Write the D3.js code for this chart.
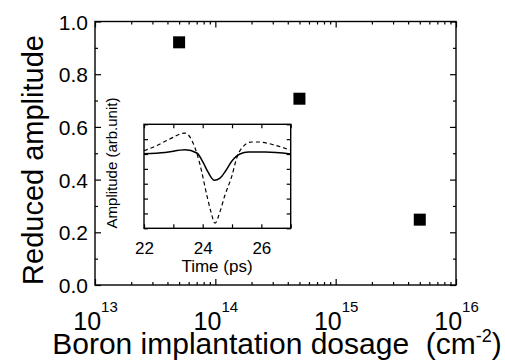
<!DOCTYPE html>
<html>
<head>
<meta charset="utf-8">
<script src="https://cdn.jsdelivr.net/npm/d3@7"></script>
<style>
  body { margin: 0; background: #fff; }
  text { font-family: Arial, "Liberation Sans", sans-serif; fill: #000; }
</style>
</head>
<body>
<svg id="chart" width="505" height="363"></svg>
<script>
// main plot data
const dosage = [5e13, 5e14, 5e15]
const reducedAmplitude = [0.921, 0.707, 0.248]
const xTickValues = [1e13, 1e14, 1e15, 1e16]
const xTickExponents = ["13", "14", "15", "16"]
const yTickValues = [0, 0.2, 0.4, 0.6, 0.8, 1.0]
const yMinorTicks = [0.1, 0.3, 0.5, 0.7, 0.9]

// inset data (time in ps, amplitude arb. units)
const timeSolid = [22.0, 22.72, 23.4, 23.8, 24.01, 24.18, 24.4, 24.59, 24.78, 24.99, 25.27, 25.56, 26.13, 27.0]
const ampSolid  = [5.02, 5.10, 5.29, 5.07, 4.46, 3.79, 3.23, 3.38, 3.86, 4.51, 5.00, 5.13, 5.13, 5.00]
const timeDashed = [22.0, 22.38, 22.83, 23.4, 23.74, 23.91, 24.14, 24.28, 24.42, 24.59, 24.76, 24.99, 25.16, 25.33, 25.67, 25.9, 26.47, 27.0]
const ampDashed  = [5.22, 5.52, 5.96, 6.41, 5.40, 4.28, 2.24, 1.12, 0.34, 1.12, 2.24, 3.49, 4.73, 5.40, 5.81, 5.81, 5.59, 5.25]
const insetTicks = [22, 23, 24, 25, 26, 27]
const insetTickLabels = [22, 24, 26]
const insetYTicks = [0, 1, 2, 3, 4, 5, 6, 7]

const Margin = { Top: 21.5, Bottom: 78, Left: 95, Right: 49 }
const width = 505, height = 363

const svg = d3.select("#chart")

const x = d3.scaleLog()
    .domain([1e13, 1e16])
    .range([Margin.Left, width - Margin.Right])
const y = d3.scaleLinear()
    .domain([0, 1])
    .range([height - Margin.Bottom, Margin.Top])

const xMinor = []
for (let e = 13; e < 16; e++) for (let k = 2; k <= 9; k++) xMinor.push(k * Math.pow(10, e))

const plotB = height - Margin.Bottom, plotR = width - Margin.Right

function tickGroup(axis, tx, ty) {
    const g = svg.append("g")
        .attr("transform", "translate(" + tx + "," + ty + ")")
        .call(axis)
    g.select(".domain").remove()
    g.selectAll(".tick line").attr("stroke", "#000").attr("stroke-width", 1.2)
    return g
}

// bottom axis with 10^n labels
const xb = tickGroup(d3.axisBottom(x).tickValues(xTickValues).tickSize(-6).tickFormat(""), 0, plotB)
xb.selectAll(".tick text")
    .attr("y", 45).attr("dy", null)
    .style("font-size", "25px")
    .each(function(d, i) {
        const t = d3.select(this)
        t.append("tspan").text("10")
        t.append("tspan").attr("dy", -18).style("font-size", "15px").text(xTickExponents[i])
    })
tickGroup(d3.axisBottom(x).tickValues(xMinor).tickSize(-3).tickFormat(""), 0, plotB)
tickGroup(d3.axisTop(x).tickValues(xTickValues).tickSize(-6).tickFormat(""), 0, Margin.Top)
tickGroup(d3.axisTop(x).tickValues(xMinor).tickSize(-3).tickFormat(""), 0, Margin.Top)

const yl = tickGroup(d3.axisLeft(y).tickValues(yTickValues).tickSize(-6).tickPadding(7).tickFormat(d3.format(".1f")), Margin.Left, 0)
yl.selectAll(".tick text").style("font-size", "21px").attr("dy", "0.36em")
tickGroup(d3.axisLeft(y).tickValues(yMinorTicks).tickSize(-3).tickFormat(""), Margin.Left, 0)
tickGroup(d3.axisRight(y).tickValues(yTickValues).tickSize(-6).tickFormat(""), plotR, 0)
tickGroup(d3.axisRight(y).tickValues(yMinorTicks).tickSize(-3).tickFormat(""), plotR, 0)

svg.append("rect")
    .attr("x", Margin.Left).attr("y", Margin.Top)
    .attr("width", plotR - Margin.Left).attr("height", plotB - Margin.Top)
    .attr("fill", "none").attr("stroke", "#000").attr("stroke-width", 1.4)

// points
svg.selectAll(".pt")
    .data(dosage.map((d, i) => [d, reducedAmplitude[i]]))
    .join("rect")
    .attr("class", "pt")
    .attr("x", d => x(d[0]) - 6).attr("y", d => y(d[1]) - 6)
    .attr("width", 12).attr("height", 12)
    .attr("fill", "#000")

// titles
svg.append("text")
    .attr("transform", "translate(43,160) rotate(-90)")
    .attr("text-anchor", "middle")
    .style("font-size", "29px")
    .text("Reduced amplitude")

const xt = svg.append("text")
    .attr("x", 277).attr("y", 354)
    .attr("text-anchor", "middle")
    .style("font-size", "30px")
    .style("white-space", "pre")
xt.append("tspan").text("Boron implantation dosage  (cm")
xt.append("tspan").attr("dy", -12).style("font-size", "18px").text("-2")
xt.append("tspan").attr("dy", 12).text(")")

// inset
const ix = d3.scaleLinear().domain([22, 27]).range([144, 290.7])
const iy = d3.scaleLinear().domain([0, 7]).range([228.3, 124.3])

svg.append("rect")
    .attr("x", ix(22)).attr("y", iy(7))
    .attr("width", ix(27) - ix(22)).attr("height", iy(0) - iy(7))
    .attr("fill", "#fff")

const line = d3.line()
    .x(d => ix(d[0]))
    .y(d => iy(d[1]))
    .curve(d3.curveMonotoneX)

svg.append("path")
    .datum(timeDashed.map((t, i) => [t, ampDashed[i]]))
    .attr("fill", "none").attr("stroke", "#000")
    .attr("stroke-width", 1.2).attr("stroke-dasharray", "4,3")
    .attr("d", line)
svg.append("path")
    .datum(timeSolid.map((t, i) => [t, ampSolid[i]]))
    .attr("fill", "none").attr("stroke", "#000")
    .attr("stroke-width", 1.5)
    .attr("d", line)

const ib = tickGroup(d3.axisBottom(ix).tickValues(insetTicks).tickSize(-4)
    .tickFormat(d => insetTickLabels.includes(d) ? d : ""), 0, iy(0))
ib.selectAll(".tick text").attr("y", 26).attr("dy", null).style("font-size", "17px")
tickGroup(d3.axisTop(ix).tickValues(insetTicks).tickSize(-4).tickFormat(""), 0, iy(7))
tickGroup(d3.axisLeft(iy).tickValues(insetYTicks).tickSize(-4).tickFormat(""), ix(22), 0)
tickGroup(d3.axisRight(iy).tickValues(insetYTicks).tickSize(-4).tickFormat(""), ix(27), 0)

svg.append("rect")
    .attr("x", ix(22)).attr("y", iy(7))
    .attr("width", ix(27) - ix(22)).attr("height", iy(0) - iy(7))
    .attr("fill", "none").attr("stroke", "#000").attr("stroke-width", 1.4)

svg.append("text")
    .attr("x", 217).attr("y", 271.7)
    .attr("text-anchor", "middle")
    .style("font-size", "17px")
    .text("Time (ps)")
svg.append("text")
    .attr("transform", "translate(117,163) rotate(-90)")
    .attr("text-anchor", "middle")
    .style("font-size", "15px")
    .text("Amplitude (arb.unit)")
</script>
</body>
</html>
